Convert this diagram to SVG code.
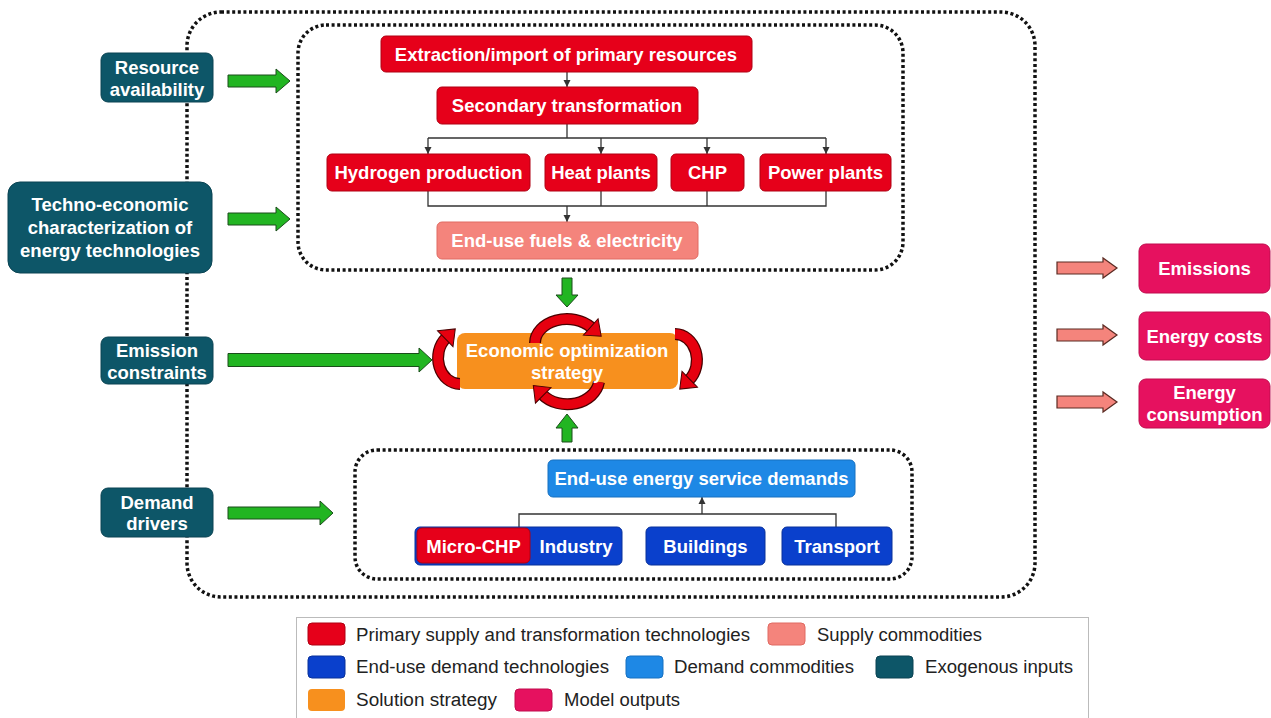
<svg xmlns="http://www.w3.org/2000/svg" width="1271" height="718" viewBox="0 0 1271 718">
<defs>
<style>
.t{font-family:"Liberation Sans",Arial,sans-serif;font-weight:bold;font-size:18.5px;fill:#fff;text-anchor:middle}
.lg{font-family:"Liberation Sans",Arial,sans-serif;font-size:18px;fill:#222}
.dot{fill:none;stroke:#111;stroke-width:3.5;stroke-dasharray:3 2.6}
.red{fill:#E6001A;stroke:#B00012;stroke-width:1}
.sal{fill:#F4847C;stroke:#E06A62;stroke-width:1}
.dblue{fill:#0A40CC;stroke:#08309a;stroke-width:1}
.lblue{fill:#1E88E5;stroke:#1670c0;stroke-width:1}
.teal{fill:#0D5668;stroke:#0a4352;stroke-width:1}
.org{fill:#F7901E}
.pink{fill:#E6115F;stroke:#c00d4e;stroke-width:1}
.garrow{fill:#22B522;stroke:#1b4d1b;stroke-width:1}
.sarrow{fill:#F4847C;stroke:#5a2a22;stroke-width:1.2}
.con{fill:none;stroke:#333;stroke-width:1.3}
.circO{fill:none;stroke:#4a0000;stroke-width:12}
.circI{fill:none;stroke:#E6000F;stroke-width:9.5}
</style>
<marker id="ah" markerUnits="userSpaceOnUse" markerWidth="8" markerHeight="8" refX="7" refY="4" orient="auto"><path d="M0,0.5 L7,4 L0,7.5 z" fill="#333"/></marker>
<marker id="cah" markerUnits="userSpaceOnUse" markerWidth="30" markerHeight="30" refX="0" refY="0" orient="auto" overflow="visible"><path d="M-1,-11 L13,0 L-1,11 z" fill="#E6000F" stroke="#4a0000" stroke-width="1"/></marker>
</defs>
<rect width="1271" height="718" fill="#fff"/>

<!-- dotted containers -->
<g id="containers">
<rect class="dot" x="187" y="12" width="848" height="585" rx="34"/>
<rect class="dot" x="298" y="25" width="605" height="245" rx="28"/>
<rect class="dot" x="355" y="450" width="557" height="129" rx="22"/>
</g>

<!-- connectors -->
<g id="connectors">
<path class="con" d="M567,72 L567,87" marker-end="url(#ah)"/>
<path class="con" d="M567,124 L567,138 M428,138 L826,138"/>
<path class="con" d="M428,138 L428,154" marker-end="url(#ah)"/>
<path class="con" d="M601,138 L601,154" marker-end="url(#ah)"/>
<path class="con" d="M707,138 L707,154" marker-end="url(#ah)"/>
<path class="con" d="M826,138 L826,154" marker-end="url(#ah)"/>
<path class="con" d="M428,191 L428,206 L826,206 L826,191 M601,191 L601,206 M707,191 L707,206"/>
<path class="con" d="M567,206 L567,222" marker-end="url(#ah)"/>
<path class="con" d="M519,527 L519,514 L836,514 L836,527"/>
<path class="con" d="M702,514 L702,497" marker-end="url(#ah)"/>
<!-- green block arrows -->
<polygon class="garrow" points="228,75 276,75 276,69 290,81 276,93 276,87 228,87"/>
<polygon class="garrow" points="228,213 276,213 276,207 290,219 276,231 276,225 228,225"/>
<polygon class="garrow" points="228,353.5 419,353.5 419,348 432,360 419,372 419,366.5 228,366.5"/>
<polygon class="garrow" points="228,507 320,507 320,501 333,513 320,525 320,519 228,519"/>
<polygon class="garrow" points="562,278 572,278 572,295 578,295 567,307 556,295 562,295"/>
<polygon class="garrow" points="562,442 572,442 572,428 578,428 567,414 556,428 562,428"/>
<!-- output arrows -->
<polygon class="sarrow" points="1057,262 1103,262 1103,258 1117,268 1103,278 1103,274 1057,274"/>
<polygon class="sarrow" points="1057,329 1103,329 1103,325 1117,335 1103,345 1103,341 1057,341"/>
<polygon class="sarrow" points="1057,396 1103,396 1103,392 1117,402 1103,412 1103,408 1057,408"/>
</g>

<!-- supply side -->
<g id="n-extraction"><rect class="red" x="381" y="36" width="371" height="36" rx="5"/><text class="t" x="566" y="60.5">Extraction/import of primary resources</text></g>
<g id="n-secondary"><rect class="red" x="437" y="87" width="261" height="37" rx="5"/><text class="t" x="567" y="112">Secondary transformation</text></g>
<g id="n-hydrogen"><rect class="red" x="327" y="154" width="203" height="37" rx="5"/><text class="t" x="428.5" y="179">Hydrogen production</text></g>
<g id="n-heat"><rect class="red" x="545" y="154" width="112" height="37" rx="5"/><text class="t" x="601" y="179">Heat plants</text></g>
<g id="n-chp"><rect class="red" x="671" y="154" width="73" height="37" rx="5"/><text class="t" x="707.5" y="179">CHP</text></g>
<g id="n-power"><rect class="red" x="760" y="154" width="131" height="37" rx="5"/><text class="t" x="825.5" y="179">Power plants</text></g>
<g id="n-enduse-fuels"><rect class="sal" x="437" y="222" width="261" height="37" rx="5"/><text class="t" x="567" y="247">End-use fuels &amp; electricity</text></g>

<!-- solution -->
<g id="n-economic">
<rect class="org" x="457" y="333" width="221" height="56" rx="8"/>
<path class="circO" d="M535,343 A32 24 0 0 1 591.5,327.6"/>
<path class="circI" d="M535,343 A32 24 0 0 1 591.5,327.6" marker-end="url(#cah)"/>
<path class="circO" d="M675,334 A22 26 0 0 1 689,380"/>
<path class="circI" d="M675,334 A22 26 0 0 1 689,380" marker-end="url(#cah)"/>
<path class="circO" d="M599,382 A32 26 0 0 1 542.5,394.7"/>
<path class="circI" d="M599,382 A32 26 0 0 1 542.5,394.7" marker-end="url(#cah)"/>
<path class="circO" d="M460,384 A22 26 0 0 1 446,338"/>
<path class="circI" d="M460,384 A22 26 0 0 1 446,338" marker-end="url(#cah)"/>
<text class="t" x="567" y="356.5">Economic optimization</text>
<text class="t" x="567" y="378.5">strategy</text>
</g>

<!-- demand side -->
<g id="n-service-demands"><rect class="lblue" x="548" y="460" width="307" height="37" rx="5"/><text class="t" x="701.5" y="485">End-use energy service demands</text></g>
<g id="n-industry"><rect class="dblue" x="415" y="527" width="207" height="38" rx="5"/><text class="t" x="576" y="552.5">Industry</text></g>
<g id="n-microchp"><rect class="red" x="417" y="528" width="113" height="35" rx="5"/><text class="t" x="473.5" y="552.5">Micro-CHP</text></g>
<g id="n-buildings"><rect class="dblue" x="646" y="527" width="119" height="38" rx="5"/><text class="t" x="705.5" y="552.5">Buildings</text></g>
<g id="n-transport"><rect class="dblue" x="782" y="527" width="110" height="38" rx="5"/><text class="t" x="837" y="552.5">Transport</text></g>

<!-- exogenous inputs -->
<g id="n-resource"><rect class="teal" x="101" y="53" width="112" height="49" rx="7"/><text class="t" x="157" y="73.5">Resource</text><text class="t" x="157" y="95.5">availability</text></g>
<g id="n-techno"><rect class="teal" x="8" y="182" width="204" height="91" rx="12"/><text class="t" x="110" y="210.5">Techno-economic</text><text class="t" x="110" y="233.5">characterization of</text><text class="t" x="110" y="256.5">energy technologies</text></g>
<g id="n-emission-c"><rect class="teal" x="101" y="337" width="112" height="47" rx="7"/><text class="t" x="157" y="356.5">Emission</text><text class="t" x="157" y="378.5">constraints</text></g>
<g id="n-demand-drivers"><rect class="teal" x="101" y="488" width="112" height="49" rx="7"/><text class="t" x="157" y="508.5">Demand</text><text class="t" x="157" y="529.5">drivers</text></g>

<!-- outputs -->
<g id="n-emissions"><rect class="pink" x="1139" y="244" width="131" height="49" rx="7"/><text class="t" x="1204.5" y="275">Emissions</text></g>
<g id="n-costs"><rect class="pink" x="1139" y="312" width="131" height="48" rx="7"/><text class="t" x="1204.5" y="342.5">Energy costs</text></g>
<g id="n-consumption"><rect class="pink" x="1139" y="379" width="131" height="49" rx="7"/><text class="t" x="1204.5" y="398.5">Energy</text><text class="t" x="1204.5" y="421">consumption</text></g>

<!-- legend -->
<g id="legend">
<rect x="296.5" y="617.5" width="792" height="101" fill="#fff" stroke="#bbb" stroke-width="1"/>
<rect class="red" x="308" y="623" width="37" height="22" rx="4"/><text class="lg" x="356" y="640.5" textLength="394" lengthAdjust="spacingAndGlyphs">Primary supply and transformation technologies</text>
<rect class="sal" x="768" y="623" width="37" height="22" rx="4"/><text class="lg" x="817" y="640.5" textLength="165" lengthAdjust="spacingAndGlyphs">Supply commodities</text>
<rect class="dblue" x="308" y="656" width="37" height="22" rx="4"/><text class="lg" x="356" y="673" textLength="253" lengthAdjust="spacingAndGlyphs">End-use demand technologies</text>
<rect class="lblue" x="626" y="656" width="37" height="22" rx="4"/><text class="lg" x="674" y="673" textLength="180" lengthAdjust="spacingAndGlyphs">Demand commodities</text>
<rect class="teal" x="876" y="656" width="37" height="22" rx="4"/><text class="lg" x="925" y="673" textLength="148" lengthAdjust="spacingAndGlyphs">Exogenous inputs</text>
<rect class="org" x="308" y="689" width="37" height="22" rx="4"/><text class="lg" x="356" y="706" textLength="141" lengthAdjust="spacingAndGlyphs">Solution strategy</text>
<rect class="pink" x="515" y="689" width="37" height="22" rx="4"/><text class="lg" x="564" y="706" textLength="116" lengthAdjust="spacingAndGlyphs">Model outputs</text>
</g>
</svg>
